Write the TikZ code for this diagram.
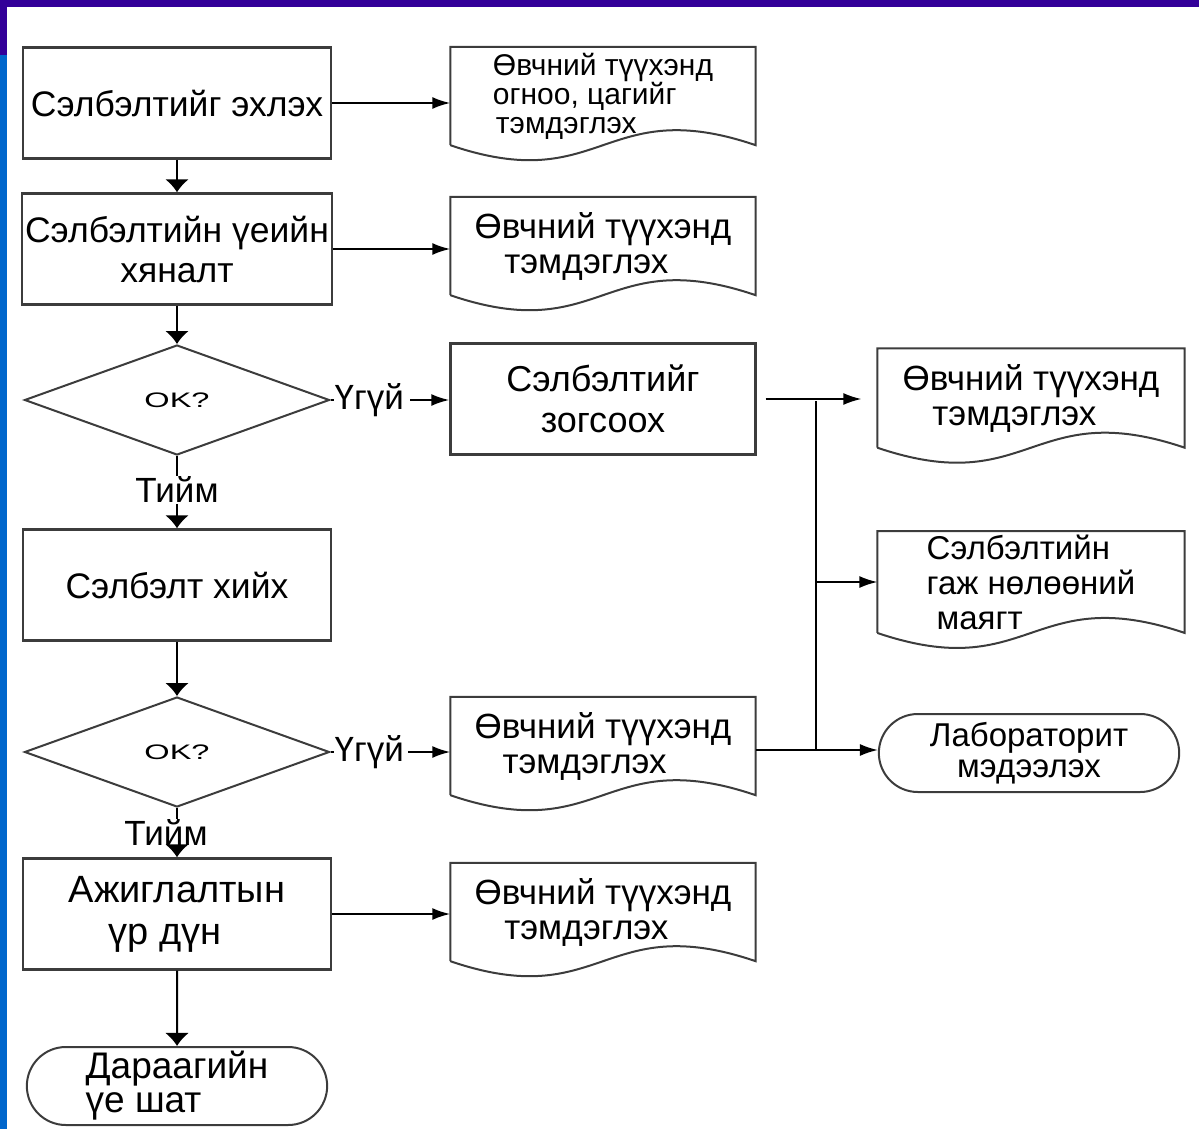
\documentclass[tikz,border=0pt]{standalone}
\usepackage{fontspec}
\setmainfont{Liberation Sans}
\usetikzlibrary{shapes.geometric,shapes.misc,arrows.meta,positioning}
\definecolor{barpurple}{RGB}{51,0,153}
\definecolor{barblue}{RGB}{0,102,204}
\definecolor{framegray}{RGB}{60,60,60}
\tikzset{
    box/.style={draw=framegray, line width=2.4pt, rectangle, minimum width=308pt,
        minimum height=111pt, align=center, font=\fontsize{35.5}{40}\selectfont},
    doc/.style={rectangle, minimum width=305pt, minimum height=98pt, align=left,
        font=\fontsize{35}{35}\selectfont},
    check/.style={draw=framegray, line width=2pt, diamond, minimum width=305pt,
        minimum height=110pt, inner sep=0pt},
    term/.style={draw=framegray, line width=2pt, rounded rectangle, minimum width=307pt,
        minimum height=78pt, align=left, font=\fontsize{33}{31}\selectfont},
    lbl/.style={inner sep=1pt, font=\fontsize{35}{35}\selectfont},
    flow/.style={line width=2pt, ->},
    down/.style={line width=2pt, -{Latex[length=13pt,width=24pt]}},
    bus/.style={line width=1.6pt},
}
\begin{document}
\begin{tikzpicture}[>={Latex[length=18pt,width=12pt]}, x=1pt, y=-1pt]
    \def\docframe#1{\draw[framegray, line width=2pt] (#1.south west) -- (#1.north west)
        -- (#1.north east) -- (#1.south east) .. controls ([yshift=52pt]#1.south)
        and ([yshift=-52pt]#1.south) .. (#1.south west);}
    \useasboundingbox (0,0) rectangle (1199,1129);
    % slide bars
    \fill[barpurple] (0,0) rectangle (1199,7);
    \fill[barpurple] (0,0) rectangle (7,55);
    \fill[barblue] (0,55) rectangle (7,1129);

    % left column
    \node[box] (start) at (177,103) {Сэлбэлтийг эхлэх};
    \node[box] (watch) at (177,249) {Сэлбэлтийн үеийн\\хяналт};
    \node[check] (ok1) at (177,400) {\scalebox{1.55}[1]{\fontsize{21}{21}\selectfont OK?}};
    \node[lbl] (yes1) at (177,490) {Тийм};
    \node[box] (give) at (177,585) {Сэлбэлт хийх};
    \node[check] (ok2) at (177,752) {\scalebox{1.55}[1]{\fontsize{21}{21}\selectfont OK?}};
    \node[lbl] (yes2) at (166,833) {Тийм};
    \node[box, align=left, font=\fontsize{38}{42}\selectfont] (result) at (177,914)
        {Ажиглалтын\\\hspace*{1.05em}үр дүн};
    \node[term, font=\fontsize{37}{34}\selectfont] (next) at (177,1086) {Дараагийн\\үе шат};

    % middle column
    \node[doc, font=\fontsize{30}{29}\selectfont] (rec1) at (603,96)
        {Өвчний түүхэнд\\огноо, цагийг\\\hspace*{0.1em}тэмдэглэх};
    \node[doc] (rec2) at (603,246) {Өвчний түүхэнд\\\hspace*{0.85em}тэмдэглэх};
    \node[lbl, right=3pt of ok1] (no1) {Үгүй};
    \node[box, minimum width=305pt, font=\fontsize{36}{41}\selectfont] (stop) at (603,399)
        {Сэлбэлтийг\\зогсоох};
    \node[lbl, right=3pt of ok2] (no2) {Үгүй};
    \node[doc] (rec5) at (603,746) {Өвчний түүхэнд\\\hspace*{0.8em}тэмдэглэх};
    \node[doc] (rec6) at (603,912) {Өвчний түүхэнд\\\hspace*{0.85em}тэмдэглэх};

    % right column
    \node[doc, minimum width=307pt, minimum height=99pt] (rec3) at (1031,398)
        {Өвчний түүхэнд\\\hspace*{0.85em}тэмдэглэх};
    \node[doc, minimum width=307pt, minimum height=95pt, font=\fontsize{33}{35}\selectfont]
        (form) at (1031,582) {Сэлбэлтийн\\гаж нөлөөний\\\hspace*{0.3em}маягт};
    \node[term, align=center] (lab) at (1029,753) {Лабораторит\\мэдээлэх};
    \foreach \d in {rec1,rec2,rec3,form,rec5,rec6} {\docframe{\d}}

    \coordinate (busTop) at (816,401);
    \coordinate (busBot) at (816,750);

    % connectors
    \draw[flow] (start.east) -- (start.east -| rec1.west);
    \draw[down] (start) -- (watch);
    \draw[flow] (watch.east) -- (watch.east -| rec2.west);
    \draw[down] (watch) -- (ok1);
    \draw[line width=2pt] (ok1.east) -- (no1.west);
    \draw[flow, shorten <=5pt] (no1.east) -- (no1.east -| stop.west);
    \draw[line width=2pt] (ok1.south) -- (yes1.north);
    \draw[down] (yes1.south) -- (give.north);
    \draw[down] (give) -- (ok2);
    \draw[line width=2pt] (ok2.east) -- (no2.west);
    \draw[flow, shorten <=3pt] (no2.east) -- (no2.east -| rec5.west);
    \draw[line width=2pt] (ok2.south) -- (yes2.north -| ok2.south);
    \draw[down] (yes2.south -| result.north) -- (result.north);
    \draw[flow] (result.east) -- (result.east -| rec6.west);
    \draw[down] (result) -- (next);
    \draw[bus, ->, shorten >=16pt] ([xshift=9pt]stop.east) -- (stop.east -| rec3.west);
    \draw[bus] (busTop) -- (busBot);
    \draw[bus, ->] (busTop |- form.west) -- (form.west);
    \draw[bus] (rec5.east |- busBot) -- (busBot);
    \draw[bus, ->] (busBot) -- (busBot -| lab.west);
\end{tikzpicture}
\end{document}
